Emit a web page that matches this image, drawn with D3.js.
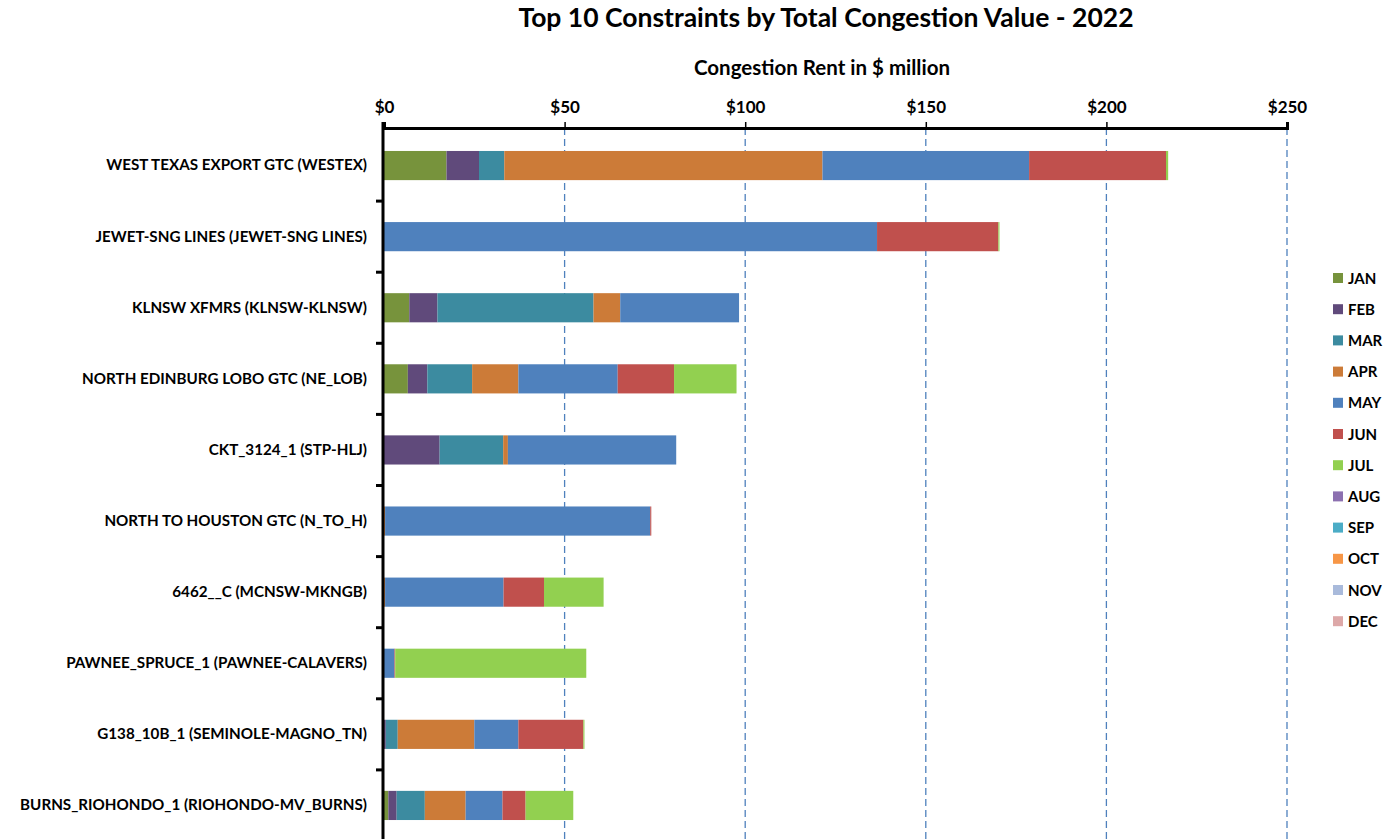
<!DOCTYPE html>
<html>
<head>
<meta charset="utf-8">
<script src="https://cdn.jsdelivr.net/npm/d3@7"></script>
<style>
  body { margin: 0; background: #fff; }
  text { font-family: Lato, "Open Sans", sans-serif; font-weight: bold; fill: #000; }
</style>
</head>
<body>
<div class="chart"></div>
<script>
// data ($ million)
var categories = [
  "WEST TEXAS EXPORT GTC (WESTEX)",
  "JEWET-SNG LINES (JEWET-SNG LINES)",
  "KLNSW XFMRS (KLNSW-KLNSW)",
  "NORTH EDINBURG LOBO GTC (NE_LOB)",
  "CKT_3124_1 (STP-HLJ)",
  "NORTH TO HOUSTON GTC (N_TO_H)",
  "6462__C (MCNSW-MKNGB)",
  "PAWNEE_SPRUCE_1 (PAWNEE-CALAVERS)",
  "G138_10B_1 (SEMINOLE-MAGNO_TN)",
  "BURNS_RIOHONDO_1 (RIOHONDO-MV_BURNS)"
];
var months = ["JAN","FEB","MAR","APR","MAY","JUN","JUL","AUG","SEP","OCT","NOV","DEC"];

var jan = [17.3, 0, 7.0, 6.6, 0, 0, 0, 0, 0, 1.2];
var feb = [9.0, 0, 7.8, 5.4, 15.4, 0, 0, 0, 0.5, 2.3];
var mar = [7.0, 0, 43.2, 12.4, 17.6, 0, 0, 0, 3.3, 7.8];
var apr = [88.1, 0, 7.4, 12.8, 1.3, 0.3, 0.3, 0, 21.2, 11.3];
var may = [57.2, 136.5, 32.9, 27.5, 46.6, 73.4, 32.8, 2.9, 12.2, 10.2];
var jun = [37.9, 33.6, 0, 15.6, 0, 0.3, 11.2, 0.2, 18.0, 6.4];
var jul = [0.6, 0.3, 0, 17.3, 0, 0, 16.5, 52.9, 0.3, 13.2];
var aug = [0, 0, 0, 0, 0, 0, 0, 0, 0, 0];
var sep = [0, 0, 0, 0, 0, 0, 0, 0, 0, 0];
var oct = [0, 0, 0, 0, 0, 0, 0, 0, 0, 0];
var nov = [0, 0, 0, 0, 0, 0, 0, 0, 0, 0];
var dec = [0, 0, 0, 0, 0, 0, 0, 0, 0, 0];

var xTicks = [0, 50, 100, 150, 200, 250];
var colors = ["#77933C","#604A7B","#3C8BA0","#CC7B38","#4F81BD","#C0504D",
              "#92D050","#8C70B0","#4BACC6","#F79646","#A9BADB","#DDA8A8"];

var series = [jan, feb, mar, apr, may, jun, jul, aug, sep, oct, nov, dec];

// build table for the stack
var table = categories.map(function(c, i) {
  var row = { name: c };
  months.forEach(function(m, j) { row[m] = series[j][i]; });
  return row;
});

var W = 1391, H = 839;
var margin = { top: 128, left: 384, right: 104 };
var y0 = 130, y1 = 841;

var svg = d3.select(".chart").append("svg")
  .attr("width", W).attr("height", H);

var x = d3.scaleLinear().domain([0, 250]).range([margin.left, W - margin.right]);
var y = d3.scaleBand().domain(categories).range([y0, y1])
  .paddingInner(0.59).paddingOuter(0.295);
var band = d3.scaleBand().domain(categories).range([y0, y1]);

// title
svg.append("text").attr("x", 826).attr("y", 27).attr("text-anchor", "middle")
  .style("font-size", "26.5px").text("Top 10 Constraints by Total Congestion Value - 2022");
svg.append("text").attr("x", 822).attr("y", 75).attr("text-anchor", "middle")
  .style("font-size", "20.5px").text("Congestion Rent in $ million");

// gridlines
svg.append("g").selectAll("line")
  .data(xTicks.filter(function(d) { return d > 0; }))
  .enter().append("line")
  .attr("x1", function(d) { return x(d); }).attr("x2", function(d) { return x(d); })
  .attr("y1", margin.top).attr("y2", H)
  .attr("stroke", "#4F81BD").attr("stroke-width", 1.3).attr("stroke-dasharray", "7,4");

// bars
var stack = d3.stack().keys(months);
var layers = stack(table);

svg.append("g").selectAll("g")
  .data(layers).enter().append("g")
  .attr("fill", function(d, i) { return colors[i]; })
  .selectAll("rect")
  .data(function(d) { return d; })
  .enter().append("rect")
  .attr("x", function(d) { return x(d[0]); })
  .attr("y", function(d) { return y(d.data.name); })
  .attr("width", function(d) { return x(d[1]) - x(d[0]); })
  .attr("height", y.bandwidth());

// x axis on top
var xAxis = svg.append("g")
  .attr("transform", "translate(0," + margin.top + ")")
  .call(d3.axisTop(x).tickValues(xTicks).tickSize(6).tickFormat(function(d) { return "$" + d; }));
xAxis.select(".domain").attr("stroke", "#000").attr("stroke-width", 3);
xAxis.selectAll(".tick line").attr("stroke", "#000").attr("stroke-width", 1.5);
xAxis.selectAll(".tick text").attr("y", -15).style("font-size", "17px")
  .style("font-family", "Lato, sans-serif").style("font-weight", "bold");

// y axis
var yAxis = svg.append("g")
  .attr("transform", "translate(" + margin.left + ",0)")
  .call(d3.axisLeft(band).tickSize(0).tickPadding(17));
yAxis.select(".domain").remove();
yAxis.selectAll(".tick text").style("font-size", "15.2px")
  .style("font-family", "Lato, sans-serif").style("font-weight", "bold");

svg.append("line").attr("x1", margin.left - 1).attr("x2", margin.left - 1)
  .attr("y1", margin.top - 6).attr("y2", H).attr("stroke", "#000").attr("stroke-width", 3);
svg.append("g").selectAll("line")
  .data(categories.slice(1)).enter().append("line")
  .attr("x1", margin.left - 8).attr("x2", margin.left)
  .attr("y1", function(d) { return band(d); }).attr("y2", function(d) { return band(d); })
  .attr("stroke", "#000").attr("stroke-width", 3);

// legend
var legend = svg.append("g").selectAll("g")
  .data(months).enter().append("g")
  .attr("transform", function(d, i) { return "translate(1333," + (278 + i * 31.2) + ")"; });
legend.append("rect").attr("x", 0).attr("y", -5).attr("width", 10).attr("height", 10)
  .attr("fill", function(d, i) { return colors[i]; });
legend.append("text").attr("x", 15).attr("y", 5.5).style("font-size", "15px")
  .text(function(d) { return d; });
</script>
</body>
</html>
